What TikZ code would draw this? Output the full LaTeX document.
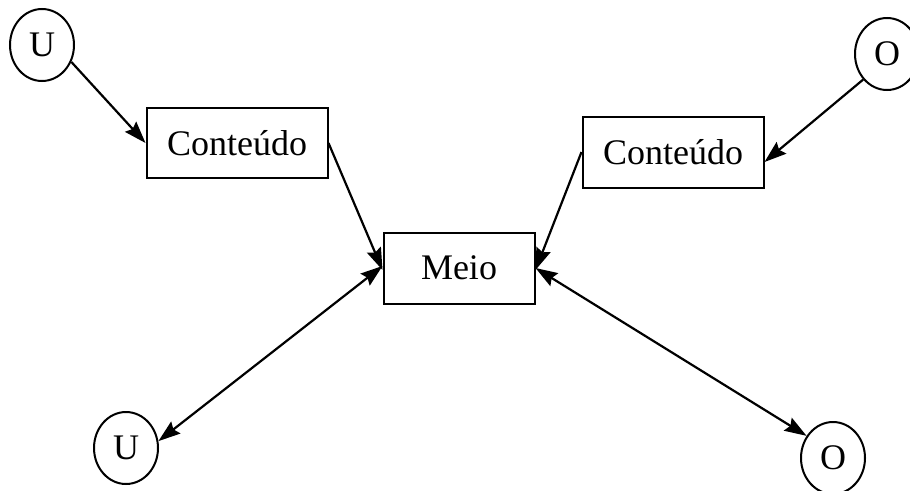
\documentclass[tikz,border=0pt]{standalone}
\usepackage{fontspec}
\setmainfont{Liberation Serif}
\usetikzlibrary{shapes.geometric,arrows.meta}
\begin{document}
\begin{tikzpicture}[x=1pt,y=-1pt,
  every node/.style={font=\fontsize{36}{40}\selectfont, line width=2pt},
  actor/.style={draw, ellipse, minimum width=64pt, minimum height=72pt, inner sep=0pt},
  boxnode/.style={draw, rectangle, inner sep=0pt},
  conn/.style={line width=2.2pt, -{Stealth[length=22pt,width=15pt,inset=3pt]}},
  biconn/.style={line width=2.2pt, {Stealth[length=22pt,width=15pt,inset=3pt]}-{Stealth[length=22pt,width=15pt,inset=3pt]}}
]
\useasboundingbox (0,0) rectangle (910,490);
\node[actor] (u1) at (42,45) {U};
\node[actor] (o1) at (887,54) {O};
\node[actor] (u2) at (126,448) {U};
\node[actor] (o2) at (833,458) {O};
\node[boxnode, minimum width=181pt, minimum height=70pt] (c1) at (237,143) {Conteúdo};
\node[boxnode, minimum width=181pt, minimum height=71pt] (c2) at (673,152) {Conteúdo};
\node[boxnode, minimum width=151pt, minimum height=71pt] (meio) at (459,268) {Meio};
\draw[conn] (u1.-30) -- (c1.west);
\draw[conn] (c1.east) -- ([yshift=-2pt]meio.west);
\draw[conn] (o1.-133) -- ([yshift=-10pt]c2.east);
\draw[conn] (c2.west) -- ([yshift=-2pt]meio.east);
\draw[biconn] ([yshift=2pt]meio.west) -- (u2.12);
\draw[biconn] (meio.east) -- (o2.140);
\end{tikzpicture}
\end{document}
